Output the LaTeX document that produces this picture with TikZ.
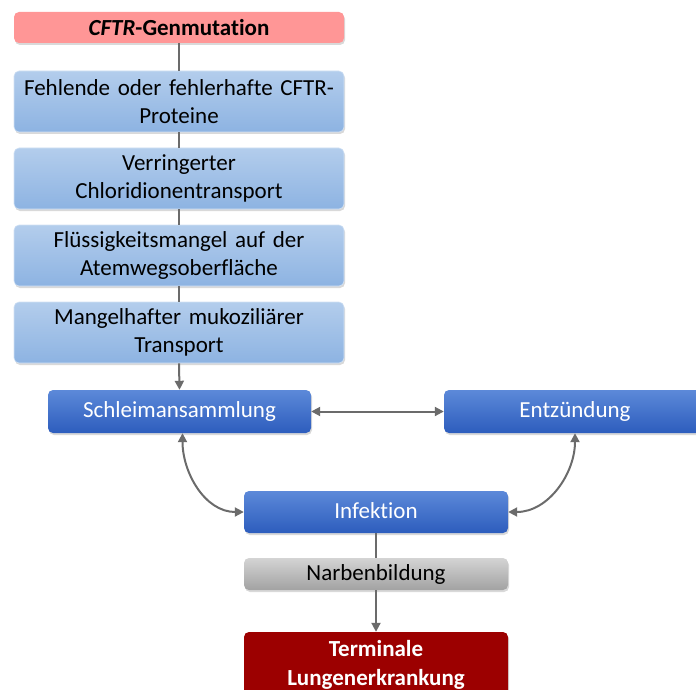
\documentclass[tikz,border=0pt]{standalone}
\usepackage{fontspec}
\setmainfont{Carlito}[Ligatures=NoCommon]
\usetikzlibrary{arrows.meta,shadows}
\definecolor{lnc}{HTML}{6B6B6B}
\definecolor{pinkf}{HTML}{FF9696}
\definecolor{lbtop}{HTML}{B3CDEC}
\definecolor{lbbot}{HTML}{8DB3E2}
\definecolor{dbtop}{HTML}{5C89D9}
\definecolor{dbbot}{HTML}{2D5DBD}
\definecolor{grtop}{HTML}{D4D4D4}
\definecolor{grbot}{HTML}{A2A2A2}
\definecolor{redf}{HTML}{9C0000}
\tikzset{
  base/.style={rounded corners=5pt, align=center, inner sep=0pt,
    font=\fontsize{23}{28}\selectfont,
    drop shadow={opacity=0.3, shadow xshift=1pt, shadow yshift=-2pt}},
  pinkbox/.style={base, fill=pinkf, minimum width=330pt, minimum height=31pt, font=\fontsize{23}{28}\selectfont\bfseries},
  lightbox/.style={base, top color=lbtop, bottom color=lbbot, draw=lbtop!60!white, line width=0.6pt, minimum width=330pt, minimum height=61pt, text width=330pt},
  darkbox/.style={base, top color=dbtop, bottom color=dbbot, text=white, minimum height=43pt},
  graybox/.style={base, top color=grtop, bottom color=grbot, minimum width=264pt, minimum height=32pt},
  redbox/.style={base, fill=redf, text=white, minimum width=264pt, minimum height=66pt, font=\fontsize{23}{29}\selectfont\bfseries},
  conn/.style={draw=lnc, line width=2pt},
  arr/.style={conn, -{Triangle[length=9pt,width=9pt]}},
  darr/.style={conn, {Triangle[length=9pt,width=9pt]}-{Triangle[length=9pt,width=9pt]}}
}
\begin{document}
\begin{tikzpicture}[x=1pt,y=-1pt]
\useasboundingbox (0,0) rectangle (696,690);
\clip (0,0) rectangle (696,690);
\node[pinkbox] (gen) at (179,27.5) {\textit{CFTR}-Genmutation};
\node[lightbox] (b1) at (179,101.5) {Fehlende oder fehlerhafte CFTR-\\Proteine};
\node[lightbox] (b2) at (179,178.5) {Verringerter\\Chloridionentransport};
\node[lightbox] (b3) at (179,255.5) {Flüssigkeitsmangel auf der\\Atemwegsoberfläche};
\node[lightbox] (b4) at (179,332.5) {Mangelhafter mukoziliärer\\Transport};
\node[darkbox, minimum width=263pt] (sch) at (179.5,411.5) {\raisebox{3pt}{Schleimansammlung}};
\node[darkbox, minimum width=262pt] (ent) at (575,411.5) {\raisebox{3pt}{Entzündung}};
\node[darkbox, minimum width=264pt, minimum height=42pt] (inf) at (376,512) {\raisebox{3pt}{Infektion}};
\node[graybox] (nar) at (376,574) {Narbenbildung};
\node[redbox] (ter) at (376,665) {Terminale\\Lungenerkrankung};
\draw[conn] (gen.south) -- (b1.north);
\draw[conn] (b1.south) -- (b2.north);
\draw[conn] (b2.south) -- (b3.north);
\draw[conn] (b3.south) -- (b4.north);
\draw[arr] (b4.south) -- (sch.north);
\draw[darr] (sch.east) -- (ent.west);
\draw[darr] ([xshift=3pt]sch.south) to[out=-90,in=180] (inf.west);
\draw[darr] (ent.south) to[out=-90,in=0] (inf.east);
\draw[conn] (inf.south) -- (nar.north);
\draw[arr] (nar.south) -- (ter.north);
\end{tikzpicture}
\end{document}
